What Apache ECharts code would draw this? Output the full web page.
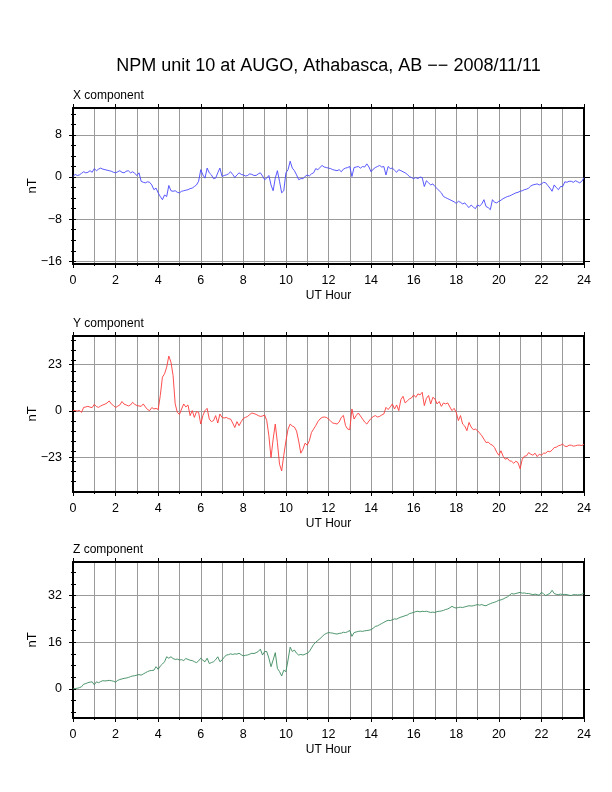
<!DOCTYPE html>
<html>
<head>
<meta charset="utf-8">
<title>NPM unit 10 at AUGO, Athabasca, AB -- 2008/11/11</title>
<script src="https://cdn.jsdelivr.net/npm/echarts@6.0.0/dist/echarts.min.js"></script>
<style>
html, body { margin: 0; padding: 0; background: #fff; }
#chart { width: 612px; height: 792px; }
</style>
</head>
<body>
<div id="chart"></div>
<script>
// samples every 0.1 UT hour, 0..24 (one row per hour)
const step = 0.1

const xComp = [
    0.1, 0.5, 0.3, 0.4, 0.7, 1.0, 0.8, 0.9, 1.2, 0.9,
    1.6, 1.2, 1.5, 1.7, 1.5, 1.4, 1.3, 1.2, 1.1, 0.9,
    0.8, 1.0, 1.2, 0.9, 0.8, 1.1, 1.2, 0.8, 1.0, 0.7,
    0.3, 0.8, -0.8, -1.0, -1.1, -0.9, -1.0, -1.5, -2.4, -2.1,
    -3.0, -3.7, -4.3, -3.4, -3.7, -1.6, -2.6, -2.7, -2.6, -2.9,
    -3.0, -2.7, -2.6, -2.5, -2.4, -2.2, -2.1, -1.8, -1.5, -0.8,
    1.4, 0.4, -0.2, 1.7, 0.8, 0.4, -0.3, -0.2, 0.8, 1.7,
    0.1, 0.3, 0.4, 0.6, 1.0, 0.5, -0.1, 0.4, 0.8, 0.5,
    0.4, 0.2, 0.3, 0.6, 0.5, 0.3, 0.3, 0.6, 0.8, 0.2,
    -0.5, -0.2, 0.3, -1.5, -2.6, -0.2, 1.2, -0.8, -3.0, -2.6,
    0.8, 1.4, 3.0, 1.7, 1.2, 0.4, -0.5, -0.3, -0.3, 0.1,
    0.4, 0.2, 0.6, 0.8, 1.6, 1.4, 1.8, 2.2, 1.9, 1.8,
    1.7, 1.6, 1.4, 1.3, 1.2, 1.4, 1.0, 1.5, 1.7, 1.8,
    2.0, 0.1, 1.8, 1.9, 2.0, 1.7, 2.0, 1.9, 2.5, 1.9,
    1.0, 1.5, 1.8, 2.0, 2.2, 1.9, 2.0, 0.4, 2.0, 1.6,
    1.7, 1.3, 0.9, 1.4, 1.2, 1.0, 0.8, 0.5, 0.1, -0.1,
    -0.3, -0.1, -0.3, 0.0, -0.1, -1.8, -0.7, -1.1, -1.5, -1.3,
    -1.8, -2.2, -2.6, -3.0, -3.7, -3.9, -4.1, -4.3, -4.5, -4.7,
    -5.0, -4.6, -4.8, -5.1, -4.9, -5.4, -5.8, -5.3, -5.7, -6.0,
    -5.3, -5.5, -5.1, -4.3, -5.6, -5.8, -6.2, -4.3, -4.8, -4.9,
    -4.6, -4.4, -4.1, -3.9, -3.7, -3.6, -3.4, -3.2, -3.0, -2.9,
    -2.7, -2.6, -2.4, -2.3, -2.1, -1.7, -1.5, -1.4, -1.3, -1.5,
    -1.3, -1.0, -1.1, -1.6, -2.1, -2.7, -1.5, -2.0, -2.4, -1.8,
    -1.8, -0.9, -1.0, -0.8, -0.8, -1.0, -0.7, -0.9, -1.1, -0.8,
    -0.1
]

const yComp = [
    0.3, 0.2, 0.0, 0.3, -0.7, 1.8, 2.0, 2.3, 1.9, 1.7,
    3.3, 2.2, 1.8, 2.5, 3.0, 3.4, 4.0, 5.0, 3.5, 2.7,
    1.7, 2.4, 3.0, 4.7, 3.4, 3.0, 2.5, 3.0, 4.3, 3.3,
    2.7, 2.5, 2.3, 3.5, 2.0, 0.7, 0.2, 1.7, 1.0, 1.3,
    0.7, 7.7, 16.8, 18.5, 21.8, 27.3, 24.3, 17.7, 3.5, -0.7,
    -1.7, 1.0, 3.5, 2.0, 3.0, -2.3, 0.2, -3.2, -0.3, -0.7,
    -6.5, -2.3, 0.2, 1.3, -4.0, -5.3, -4.8, -2.3, -6.0, -1.5,
    -3.2, -3.5, -3.2, -3.8, -4.0, -6.0, -8.2, -5.3, -7.3, -5.3,
    -3.7, -3.2, -2.7, -1.8, -1.0, -1.3, -1.7, -2.3, -2.7, -2.5,
    -2.0, -4.8, -12.3, -23.2, -14.0, -6.5, -15.7, -26.5, -29.8, -22.0,
    -15.0, -9.0, -6.5, -7.5, -8.0, -10.0, -15.0, -21.0, -19.0, -16.0,
    -17.0, -14.8, -10.7, -9.0, -7.3, -5.3, -4.0, -3.2, -3.0, -3.2,
    -4.0, -5.0, -6.0, -6.2, -6.5, -5.5, -3.2, -2.2, -7.3, -9.0,
    -9.3, 1.0, -4.0, -2.3, -1.0, -2.5, -4.0, -5.5, -6.5, -5.0,
    -3.7, -2.8, -2.3, -3.0, -2.7, -2.0, -1.5, 1.8, 0.7, 2.0,
    3.5, 1.0, 3.0, 0.2, 5.7, 7.3, 4.0, 5.0, 6.0, 6.5,
    8.0, 6.8, 8.5, 8.0, 9.3, 2.7, 6.3, 7.7, 3.5, 6.8,
    6.0, 3.5, 4.7, 2.3, 4.0, 3.5, 4.0, 2.0, 0.2, 1.3,
    -0.7, -4.8, -2.3, -6.5, -7.5, -9.8, -5.7, -8.0, -9.3, -9.0,
    -9.8, -11.0, -12.3, -14.0, -15.7, -15.5, -16.5, -17.0, -18.2, -20.5,
    -22.0, -19.8, -22.5, -24.0, -23.5, -24.8, -25.0, -26.0, -25.0, -25.7,
    -28.7, -24.0, -22.5, -22.3, -20.7, -21.5, -22.0, -21.0, -22.7, -21.5,
    -22.0, -21.0, -21.0, -20.0, -20.3, -19.5, -18.2, -18.0, -17.3, -17.0,
    -16.5, -17.5, -17.7, -17.0, -17.0, -17.5, -17.3, -17.0, -17.0, -17.2,
    -16.5
]

const zComp = [
    0.0, 0.1, 0.2, 0.4, 0.7, 1.6, 1.8, 2.1, 2.3, 2.4,
    1.4, 2.4, 2.1, 2.5, 2.8, 2.7, 2.8, 2.9, 2.8, 2.6,
    2.3, 2.9, 3.2, 3.4, 3.6, 3.7, 3.9, 4.2, 4.4, 4.5,
    4.7, 4.9, 4.7, 5.1, 5.5, 5.9, 6.2, 6.3, 6.4, 7.6,
    6.7, 7.8, 8.5, 9.3, 11.0, 10.5, 11.0, 10.4, 10.1, 10.2,
    9.9, 10.0, 9.7, 10.4, 10.1, 9.8, 9.7, 9.3, 9.0, 9.6,
    10.5, 9.8, 9.3, 10.5, 8.7, 9.0, 9.3, 10.0, 11.0, 9.3,
    9.9, 10.8, 11.6, 11.7, 12.0, 11.8, 12.0, 11.9, 12.2, 11.7,
    11.3, 11.5, 11.6, 11.9, 12.2, 12.1, 12.4, 12.8, 13.6, 11.6,
    12.8, 12.8, 10.5, 7.6, 9.9, 12.4, 7.0, 5.9, 4.4, 6.4,
    5.9, 9.9, 14.3, 12.8, 13.3, 12.2, 11.6, 11.8, 11.6, 11.9,
    12.2, 12.8, 14.0, 15.2, 16.0, 16.6, 17.2, 17.9, 18.6, 19.0,
    19.3, 19.2, 19.1, 18.9, 18.8, 19.0, 19.1, 19.4, 19.3, 19.6,
    20.0, 18.0, 19.3, 19.5, 19.7, 19.8, 19.7, 19.9, 20.0, 20.1,
    20.3, 20.8, 21.4, 21.6, 22.0, 22.4, 22.8, 23.2, 23.5, 23.4,
    23.7, 24.0, 23.9, 24.3, 24.6, 24.8, 25.1, 25.3, 25.8, 26.0,
    26.2, 26.5, 26.6, 26.4, 26.6, 26.5, 26.6, 26.4, 26.2, 26.3,
    26.2, 26.5, 26.6, 26.7, 26.9, 27.2, 27.4, 27.8, 28.3, 27.9,
    27.7, 27.9, 28.0, 27.9, 28.1, 28.3, 28.5, 28.4, 28.5, 28.7,
    28.9, 28.7, 28.9, 28.6, 28.5, 28.9, 29.2, 29.5, 29.7, 30.0,
    30.4, 30.5, 30.8, 31.2, 31.5, 32.1, 32.7, 32.5, 32.7, 32.9,
    33.1, 32.8, 32.9, 32.7, 32.7, 32.5, 32.3, 32.5, 32.3, 32.1,
    33.1, 32.6, 32.0, 32.4, 32.7, 33.8, 32.7, 32.4, 32.3, 32.5,
    32.3, 32.4, 32.3, 32.1, 32.0, 32.3, 32.3, 32.2, 32.3, 32.4,
    32.9
]

// labelled (major) and minor y ticks for each panel
const xMajor = [-16, -8, 0, 8]
const xMinor = [-16, -14, -12, -10, -8, -6, -4, -2, 0, 2, 4, 6, 8, 10, 12]
const yMajor = [-23, 0, 23]
const yMinor = [-35, -30, -25, -20, -15, -10, -5, 0, 5, 10, 15, 20, 25, 30, 35]
const zMajor = [0, 16, 32]
const zMinor = [-8, -4, 0, 4, 8, 12, 16, 20, 24, 28, 32, 36, 40]

const font = 'Liberation Sans, Helvetica, Arial, sans-serif'
const gridColor = '#9a9a9a'

const panels = [
    {label: 'X component', data: xComp, color: '#4646ff', min: -16.5, max: 13.1, major: xMajor, minor: xMinor, top: 108},
    {label: 'Y component', data: yComp, color: '#ff3a3a', min: -40.3, max: 37.3, major: yMajor, minor: yMinor, top: 336},
    {label: 'Z component', data: zComp, color: '#3a8a5c', min: -10, max: 43.5, major: zMajor, minor: zMinor, top: 562}
]

const plotLeft = 73
const plotWidth = 511
const plotHeight = 156

let chart = echarts.init(document.getElementById('chart'), null, {renderer: 'canvas'})

const grids = [], xAxes = [], yAxes = [], series = [], texts = []
const black = {color: '#000', width: 1}
const frame = {show: true, onZero: false, lineStyle: {color: '#000', width: 2}}
const minus = v => String(v).replace('-', '\u2212')

panels.forEach((p, i) => {
    grids.push({left: plotLeft, top: p.top, width: plotWidth, height: plotHeight})

    xAxes.push({
        gridIndex: i, type: 'value', position: 'bottom', min: 0, max: 24, interval: 2,
        axisLine: frame,
        axisTick: {show: true, length: 4, lineStyle: black},
        minorTick: {show: true, splitNumber: 2, length: 2, lineStyle: black},
        axisLabel: {fontFamily: font, fontSize: 12.5, color: '#000', margin: 10},
        splitLine: {show: true, lineStyle: {color: gridColor, width: 1}},
        minorSplitLine: {show: true, lineStyle: {color: gridColor, width: 1}}
    })
    xAxes.push({
        gridIndex: i, type: 'value', position: 'top', min: 0, max: 24, interval: 2,
        axisLine: frame,
        axisTick: {show: true, length: 4, lineStyle: black},
        axisLabel: {show: false},
        splitLine: {show: false}
    })

    const yBase = {gridIndex: i, type: 'value', min: p.min, max: p.max, axisLabel: {show: false}, splitLine: {show: false}}
    yAxes.push({
        ...yBase, position: 'left',
        axisLine: frame,
        axisTick: {show: true, customValues: p.major, length: 4, lineStyle: black},
        axisLabel: {show: true, customValues: p.major, formatter: minus, fontFamily: font, fontSize: 12.5, color: '#000', margin: 11},
        splitLine: {show: true, lineStyle: {color: gridColor, width: 1}}
    })
    yAxes.push({
        ...yBase, position: 'left',
        axisLine: {show: false},
        axisTick: {show: true, customValues: p.minor, length: 2, lineStyle: black}
    })
    yAxes.push({
        ...yBase, position: 'right',
        axisLine: frame,
        axisTick: {show: true, customValues: p.major, length: 6, lineStyle: black}
    })
    yAxes.push({
        ...yBase, position: 'right',
        axisLine: {show: false},
        axisTick: {show: true, customValues: p.minor, length: 3, lineStyle: black}
    })

    series.push({
        type: 'line',
        xAxisIndex: i * 2,
        yAxisIndex: i * 4,
        data: p.data.map((v, k) => [+(k * step).toFixed(1), v]),
        showSymbol: false,
        symbol: 'none',
        lineStyle: {color: p.color, width: 0.9},
        itemStyle: {color: p.color},
        silent: true
    })

    texts.push({
        type: 'text', left: plotLeft, top: p.top - 18,
        style: {text: p.label, font: '12px ' + font, fill: '#000'}
    })
    texts.push({
        type: 'text', x: plotLeft + plotWidth / 2, y: p.top + plotHeight + 32,
        style: {text: 'UT Hour', font: '12px ' + font, fill: '#000', textAlign: 'center', textVerticalAlign: 'middle'}
    })
    texts.push({
        type: 'text', x: 32, y: p.top + plotHeight / 2, rotation: Math.PI / 2,
        style: {text: 'nT', font: '13px ' + font, fill: '#000', textAlign: 'center', textVerticalAlign: 'middle'}
    })
})

texts.push({
    type: 'text', x: plotLeft + plotWidth / 2, y: 66,
    style: {text: 'NPM unit 10 at AUGO, Athabasca, AB \u2212\u2212 2008/11/11', font: '18px ' + font, fill: '#000', textAlign: 'center', textVerticalAlign: 'middle'}
})

chart.setOption({
    animation: false,
    backgroundColor: '#fff',
    grid: grids,
    xAxis: xAxes,
    yAxis: yAxes,
    series,
    graphic: texts
})
</script>
</body>
</html>
